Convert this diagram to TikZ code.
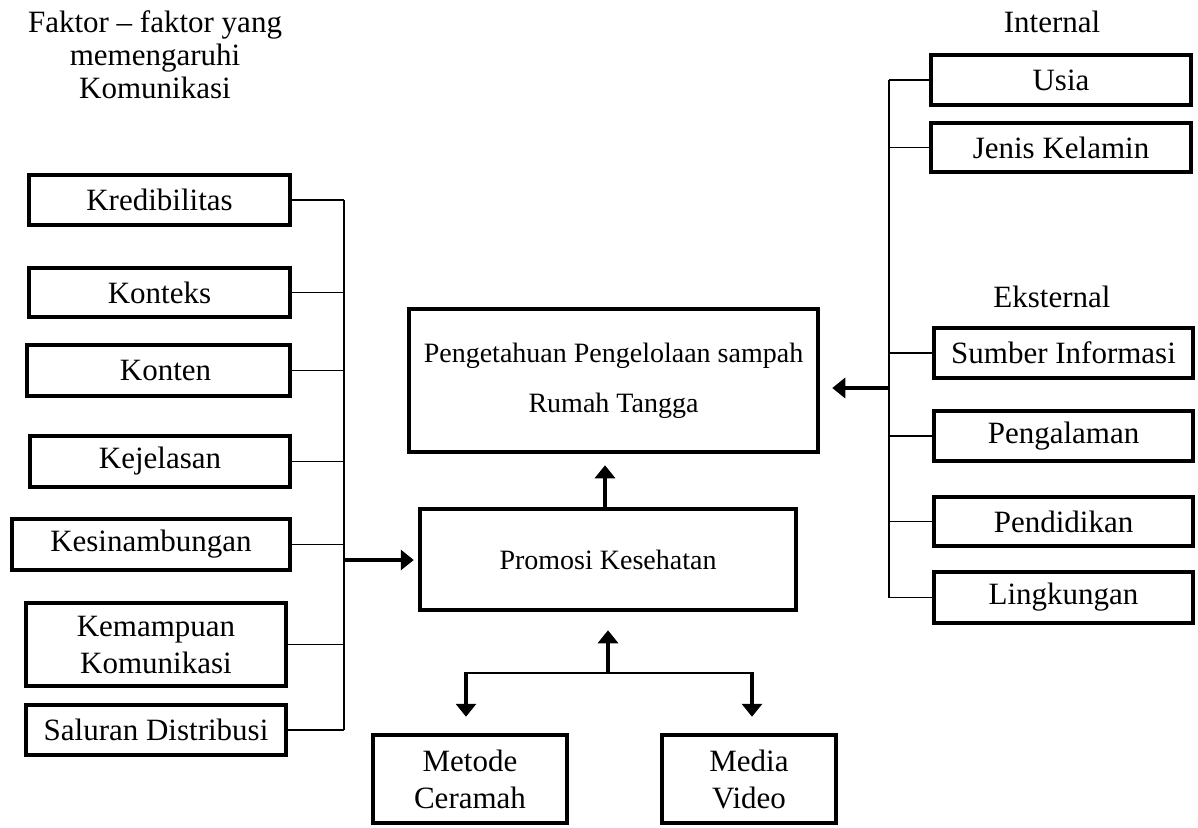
\documentclass[tikz,border=0pt]{standalone}
\usepackage{fontspec}
\setmainfont{Liberation Serif}
\usetikzlibrary{arrows.meta}
\tikzset{
  box/.style={draw, line width=4.5pt, inner sep=0pt, align=center, font=\fontsize{31}{37}\selectfont},
  midbox/.style={draw, line width=4.5pt, inner sep=0pt, align=center},
  lbl/.style={inner sep=0pt, align=center, font=\fontsize{31}{33}\selectfont},
  conn/.style={line width=1.4pt},
  arr/.style={line width=4pt, -{Triangle[width=20pt,length=13pt]}}
}
\begin{document}
\begin{tikzpicture}[x=1pt,y=-1pt]
\useasboundingbox (0,0) rectangle (1198,827);
% titles
\node[lbl] (title) at (155,55) {Faktor -- faktor yang\\memengaruhi\\Komunikasi};
\node[lbl] (internal) at (1052,22) {Internal};
\node[lbl] (eksternal) at (1052,297) {Eksternal};
% left boxes
\node[box, minimum width=261pt, minimum height=50pt] (kred) at (159.5,200) {Kredibilitas};
\node[box, minimum width=261pt, minimum height=49pt] (kontx) at (159.5,292.5) {Konteks};
\node[box, minimum width=263pt, minimum height=51pt] (konten) at (158.5,370.5) {\hspace{14pt}Konten};
\node[box, minimum width=260pt, minimum height=51pt] (kej) at (160,461.5) {Kejelasan};
\node[box, minimum width=278pt, minimum height=51pt] (kes) at (151,544.5) {Kesinambungan};
\node[box, minimum width=260pt, minimum height=83pt] (kem) at (156,644.5) {Kemampuan\\Komunikasi};
\node[box, minimum width=260pt, minimum height=50pt] (sal) at (156,730) {Saluran Distribusi};
% centre
\node[midbox, minimum width=409pt, minimum height=143pt, font=\fontsize{28}{50}\selectfont] (peng) at (613.5,380.5) {Pengetahuan Pengelolaan sampah\\Rumah Tangga};
\node[midbox, minimum width=376pt, minimum height=101pt, font=\fontsize{28}{34}\selectfont] (promo) at (608,559.5) {Promosi Kesehatan};
% bottom
\node[box, minimum width=194pt, minimum height=88pt] (metode) at (470,779) {Metode\\Ceramah};
\node[box, minimum width=174pt, minimum height=88pt] (media) at (749,779) {Media\\Video};
% right boxes
\node[box, minimum width=260pt, minimum height=50pt] (usia) at (1061,80) {Usia};
\node[box, minimum width=260pt, minimum height=49pt] (jenis) at (1061,147.5) {Jenis Kelamin};
\node[box, minimum width=259pt, minimum height=50pt] (sumber) at (1063.5,353) {Sumber Informasi};
\node[box, minimum width=259pt, minimum height=50pt] (pengal) at (1063.5,436) {Pengalaman};
\node[box, minimum width=259pt, minimum height=49pt] (pendi) at (1063.5,521.5) {Pendidikan};
\node[box, minimum width=259pt, minimum height=51pt] (lingk) at (1063.5,597.5) {Lingkungan};
% left bus
\coordinate (lbusT) at (344,200);
\coordinate (lbusB) at (344,730);
\coordinate (larr) at (344,560);
\draw[conn] (lbusT) -- (lbusB);
\foreach \n in {kred,kontx,konten,kej,kes,kem,sal}
  \draw[conn] (\n.east) -- (\n.east -| lbusT);
\draw[arr, shorten >=4pt] (larr) -- (larr -| promo.west);
% right bus
\coordinate (rbusT) at (889,80);
\coordinate (rbusB) at (889,597.5);
\coordinate (rarr) at (889,388);
\draw[conn] (rbusT) -- (rbusB);
\foreach \n in {usia,jenis,sumber,pengal,pendi,lingk}
  \draw[conn] (\n.west) -- (\n.west -| rbusT);
\draw[arr, shorten >=12pt] (rarr) -- (rarr -| peng.east);
% centre arrow
\coordinate (pup) at (605,507);
\draw[arr, shorten >=11pt] (pup) -- (pup |- peng.south);
% bottom fork
\coordinate (junc) at (608,673);
\coordinate (jl) at (466,673);
\coordinate (jr) at (752,673);
\draw[arr, shorten >=18pt] (junc) -- (junc |- promo.south);
\draw[conn] (jl) -- (jr);
\draw[arr, shorten >=16pt] ([yshift=0.7pt]jl) -- (jl |- metode.north);
\draw[arr, shorten >=16pt] ([yshift=0.7pt]jr) -- (jr |- media.north);
\end{tikzpicture}
\end{document}
